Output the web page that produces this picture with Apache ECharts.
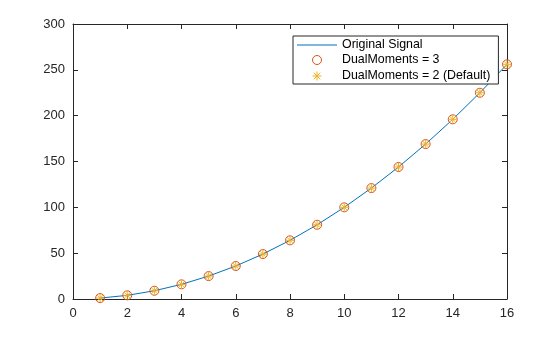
<!DOCTYPE html>
<html><head><meta charset="utf-8">
<script src="https://cdn.jsdelivr.net/npm/echarts@6/dist/echarts.min.js"></script>
<style>html,body{margin:0;padding:0;background:#fff}#c{width:560px;height:337px}</style>
</head><body><div id="c"></div>
<script>
const xValues = [1,2,3,4,5,6,7,8,9,10,11,12,13,14,15,16];
const signal = [1,4,9,16,25,36,49,64,81,100,121,144,169,196,225,256];
const dm3 = [1,4,9,16,25,36,49,64,81,100,121,144,169,196,225,256];
const dm2 = [1,4,9,16,25,36,49,64,81,100,121,144,169,196,225,256];
const seriesNames = ['Original Signal','DualMoments = 3','DualMoments = 2 (Default)'];

const pair = (xs, ys) => xs.map((x,i)=>[x, ys[i]]);
const AX = '#262626';
const FONT = '"Liberation Sans", Arial, sans-serif';
const star = 'path://M0,-1L0,1M-1,0L1,0M-0.72,-0.72L0.72,0.72M-0.72,0.72L0.72,-0.72';
const hline = 'path://M0,0H40V1H0Z';

const axisCommon = {
  axisLine:{show:true, onZero:false, lineStyle:{color:AX, width:1}},
  axisTick:{show:true, inside:true, length:5, lineStyle:{color:AX}},
  splitLine:{show:false},
};
const chart = echarts.init(document.getElementById('c'), null, {renderer:'canvas'});
chart.setOption({
  animation:false,
  backgroundColor:'#fff',
  grid:{left:73, right:53, top:24, bottom:38, containLabel:false},
  xAxis:[
    Object.assign({type:'value', min:0, max:16, interval:2, position:'bottom',
      axisLabel:{color:AX, fontSize:13, fontFamily:FONT, margin:8}}, axisCommon),
    Object.assign({type:'value', min:0, max:16, interval:2, position:'top',
      axisLabel:{show:false}}, axisCommon)
  ],
  yAxis:[
    Object.assign({type:'value', min:0, max:300, interval:50, position:'left',
      axisLabel:{color:AX, fontSize:13, fontFamily:FONT, margin:8}}, axisCommon),
    Object.assign({type:'value', min:0, max:300, interval:50, position:'right',
      axisLabel:{show:false}}, axisCommon)
  ],
  legend:{
    orient:'vertical', left:293, top:36,
    padding:[3,8,1,4], itemGap:3, itemWidth:40, itemHeight:9,
    backgroundColor:'#fff', borderColor:AX, borderWidth:1, borderRadius:0,
    textStyle:{color:'#000', fontSize:12.4, lineHeight:12, fontFamily:FONT, padding:[0,0,0,0]},
    data:[
      {name:seriesNames[0], icon:hline, itemStyle:{color:'#0072BD', borderWidth:0}},
      {name:seriesNames[1], icon:'circle', itemStyle:{color:'rgba(0,0,0,0)', borderColor:'#D95319', borderWidth:1}},
      {name:seriesNames[2], icon:star, itemStyle:{color:'none', borderColor:'#EDB120', borderWidth:1}}
    ]
  },
  series:[
    {name:seriesNames[0], type:'line', data:pair(xValues, signal), symbol:'none',
     lineStyle:{color:'#0072BD', width:1}, itemStyle:{color:'#0072BD'}, z:2},
    {name:seriesNames[1], type:'scatter', data:pair(xValues, dm3), symbol:'circle', symbolSize:9,
     itemStyle:{color:'rgba(0,0,0,0)', borderColor:'#D95319', borderWidth:1, opacity:1}, z:3},
    {name:seriesNames[2], type:'scatter', data:pair(xValues, dm2), symbol:star, symbolSize:8,
     itemStyle:{color:'none', borderColor:'#EDB120', borderWidth:1, opacity:1}, z:4}
  ]
});
</script></body></html>
